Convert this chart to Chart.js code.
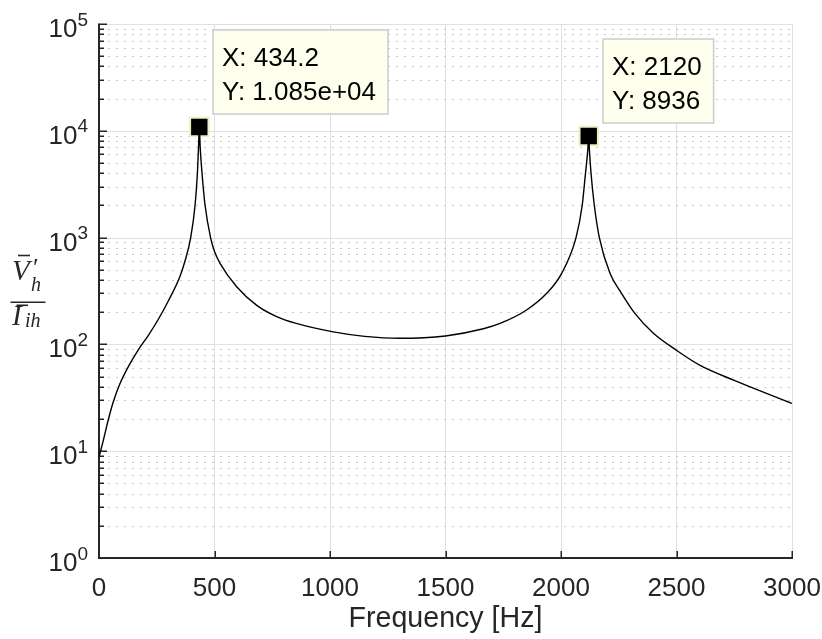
<!DOCTYPE html>
<html>
<head>
<meta charset="utf-8">
<script src="https://cdn.jsdelivr.net/npm/chart.js@4.4.1/dist/chart.umd.min.js"></script>
<style>
  html, body { margin: 0; padding: 0; background: #fff; }
  #wrap { width: 822px; height: 639px; }
</style>
</head>
<body>
<div id="wrap"><canvas id="c" width="822" height="639"></canvas></div>
<script>
// impedance ratio |V'h / Iih| vs frequency
const freqHz = [0, 19, 40, 62, 91, 127, 170, 213, 257, 300, 350, 372, 397, 416, 426, 431, 434.2,
  438, 446, 459, 483, 500, 524, 596, 683, 769, 850, 1014, 1150, 1300, 1500, 1664, 1736, 1851,
  1938, 2003, 2065, 2092, 2106, 2116, 2120, 2123, 2130, 2144, 2166, 2212, 2262, 2320, 2400,
  2500, 2600, 2750, 3000];
const ratio = [8.8, 12.7, 19.6, 29, 43, 62, 89, 121, 172, 255, 430, 600, 1000, 2020, 4000, 7100, 10850,
  7100, 4000, 2020, 1000, 740, 574, 347, 232, 182, 158, 131, 119, 114, 120, 140, 157, 210,
  301, 463, 1000, 2020, 4000, 6600, 8936, 6600, 4000, 2020, 1000, 463, 301, 195, 127,
  88, 64, 46, 28];

// data tips
const tipX = [434.2, 2120];
const tipY = [10850, 8936];
const tipText = [["X: 434.2", "Y: 1.085e+04"], ["X: 2120", "Y: 8936"]];

// axes
const xTicks = [0, 500, 1000, 1500, 2000, 2500, 3000];
const yDecades = [0, 1, 2, 3, 4, 5];
const yMinor = [2, 3, 4, 5, 6, 7, 8, 9];

const SANS = "'Liberation Sans', Arial, Helvetica, sans-serif";
const SERIF = "'Liberation Serif', 'DejaVu Serif', serif";
const AXIS = "#262626";

function hline(ctx, x0, x1, y) {
  ctx.beginPath(); ctx.moveTo(x0, y); ctx.lineTo(x1, y); ctx.stroke();
}
function vline(ctx, x, y0, y1) {
  ctx.beginPath(); ctx.moveTo(x, y0); ctx.lineTo(x, y1); ctx.stroke();
}

const matlabAxes = {
  id: "matlabAxes",
  beforeDatasetsDraw(chart) {
    const { ctx, chartArea: a, scales: { x, y } } = chart;
    ctx.save();
    // minor y grid (dotted)
    ctx.strokeStyle = "#cacaca";
    ctx.lineWidth = 1;
    ctx.setLineDash([2, 6]);
    yDecades.slice(0, -1).forEach((e) => {
      yMinor.forEach((m) => {
        const py = Math.round(y.getPixelForValue(m * Math.pow(10, e))) + 0.5;
        hline(ctx, a.left + 1, a.right, py);
      });
    });
    ctx.setLineDash([]);
    // major y grid
    ctx.strokeStyle = "#dfdfdf";
    yDecades.forEach((e) => {
      const py = Math.round(y.getPixelForValue(Math.pow(10, e))) + 0.5;
      hline(ctx, a.left, a.right, py);
    });
    // axis lines
    ctx.strokeStyle = AXIS;
    ctx.lineWidth = 2;
    vline(ctx, a.left, a.top - 0.5, a.bottom + 1);
    hline(ctx, a.left - 1, a.right + 1, a.bottom);
    // inward ticks
    ctx.lineWidth = 1.5;
    xTicks.forEach((v) => {
      const px = Math.round(x.getPixelForValue(v)) + 0.25;
      vline(ctx, px, a.bottom, a.bottom - 7);
    });
    yDecades.forEach((e) => {
      const py = Math.round(y.getPixelForValue(Math.pow(10, e))) + 0.25;
      hline(ctx, a.left, a.left + 8, py);
      if (e < 5) {
        yMinor.forEach((m) => {
          const pm = Math.round(y.getPixelForValue(m * Math.pow(10, e))) + 0.25;
          hline(ctx, a.left, a.left + 5, pm);
        });
      }
    });
    ctx.restore();
  },
  afterDatasetsDraw(chart) {
    const { ctx, scales: { x, y } } = chart;
    ctx.save();
    // data tip boxes
    ctx.font = "26px " + SANS;
    tipX.forEach((fx, i) => {
      const px = x.getPixelForValue(fx);
      const py = y.getPixelForValue(tipY[i]);
      const w = Math.max(...tipText[i].map((s) => ctx.measureText(s).width)) + 21;
      const left = Math.round(px + 14);
      const top = Math.round(py - 13 - 84);
      ctx.fillStyle = "#ffffee";
      ctx.fillRect(left, top, w, 84);
      ctx.strokeStyle = "#cccccc";
      ctx.lineWidth = 1.5;
      ctx.strokeRect(left, top, w, 84);
      ctx.fillStyle = "#000";
      ctx.textBaseline = "alphabetic";
      ctx.fillText(tipText[i][0], left + 9, top + 36);
      ctx.fillText(tipText[i][1], left + 9, top + 70);
    });
    ctx.restore();
  },
  afterDraw(chart) {
    const { ctx, chartArea: a, scales: { y } } = chart;
    ctx.save();
    ctx.fillStyle = AXIS;
    ctx.textBaseline = "alphabetic";
    // y tick labels 10^n
    yDecades.forEach((e) => {
      const py = y.getPixelForValue(Math.pow(10, e));
      ctx.font = "19px " + SANS;
      const sup = String(e);
      const sw = ctx.measureText(sup).width;
      const right = a.left - 11;
      ctx.fillText(sup, right - sw, py + 1.5);
      ctx.font = "26px " + SANS;
      const bw = ctx.measureText("10").width;
      ctx.fillText("10", right - sw - bw, py + 13);
    });
    // y axis label: fraction V'_h / I_ih
    ctx.fillStyle = "#262626";
    ctx.strokeStyle = "#262626";
    ctx.font = "italic 29px " + SERIF;
    ctx.fillText("V", 12, 280);
    ctx.font = "italic 20px " + SERIF;
    ctx.fillText("h", 31, 291);
    ctx.font = "26px " + SERIF;
    ctx.fillText("\u2032", 33, 276);
    ctx.lineWidth = 1.6;
    hline(ctx, 18, 30, 255.5);
    hline(ctx, 10.5, 45.5, 302.3);
    ctx.font = "italic 29px " + SERIF;
    ctx.fillText("I", 12, 325);
    ctx.font = "italic 20px " + SERIF;
    ctx.fillText("ih", 25, 327);
    hline(ctx, 16.5, 28, 305.3);
    ctx.restore();
  },
};

new Chart(document.getElementById("c"), {
  type: "line",
  data: {
    datasets: [
      {
        data: freqHz.map((f, i) => ({ x: f, y: ratio[i] })),
        borderColor: "#000",
        borderWidth: 1.4,
        pointRadius: 0,
        cubicInterpolationMode: "monotone",
        fill: false,
      },
      {
        data: tipX.map((f, i) => ({ x: f, y: tipY[i] })),
        showLine: false,
        pointStyle: "rect",
        pointRadius: 13,
        backgroundColor: "#000",
        borderColor: "#eeeec4",
        borderWidth: 2,
      },
    ],
  },
  options: {
    responsive: false,
    animation: false,
    events: [],
    layout: { padding: { top: 24, right: 30, left: 0, bottom: 0 } },
    plugins: { legend: { display: false }, tooltip: { enabled: false } },
    scales: {
      x: {
        type: "linear",
        min: 0,
        max: 3000,
        afterBuildTicks: (s) => { s.ticks = xTicks.map((v) => ({ value: v })); },
        afterFit: (s) => {
          s.height = 81;
          s.paddingLeft = 0;
          s.paddingRight = 0;
        },
        grid: { color: "#dfdfdf", lineWidth: 1, drawTicks: false },
        border: { display: false },
        ticks: {
          font: { family: SANS, size: 26 },
          color: AXIS,
          padding: 15,
          maxRotation: 0,
          autoSkip: false,
          callback: (v) => String(v),
        },
        title: {
          display: true,
          text: "Frequency [Hz]",
          font: { family: SANS, size: 28.6 },
          color: AXIS,
          padding: { top: 0, bottom: 3 },
        },
      },
      y: {
        type: "logarithmic",
        min: 1,
        max: 100000,
        afterFit: (s) => { s.width = 99; },
        ticks: { display: false },
        grid: { display: false },
        border: { display: false },
      },
    },
  },
  plugins: [matlabAxes],
});
</script>
</body>
</html>
